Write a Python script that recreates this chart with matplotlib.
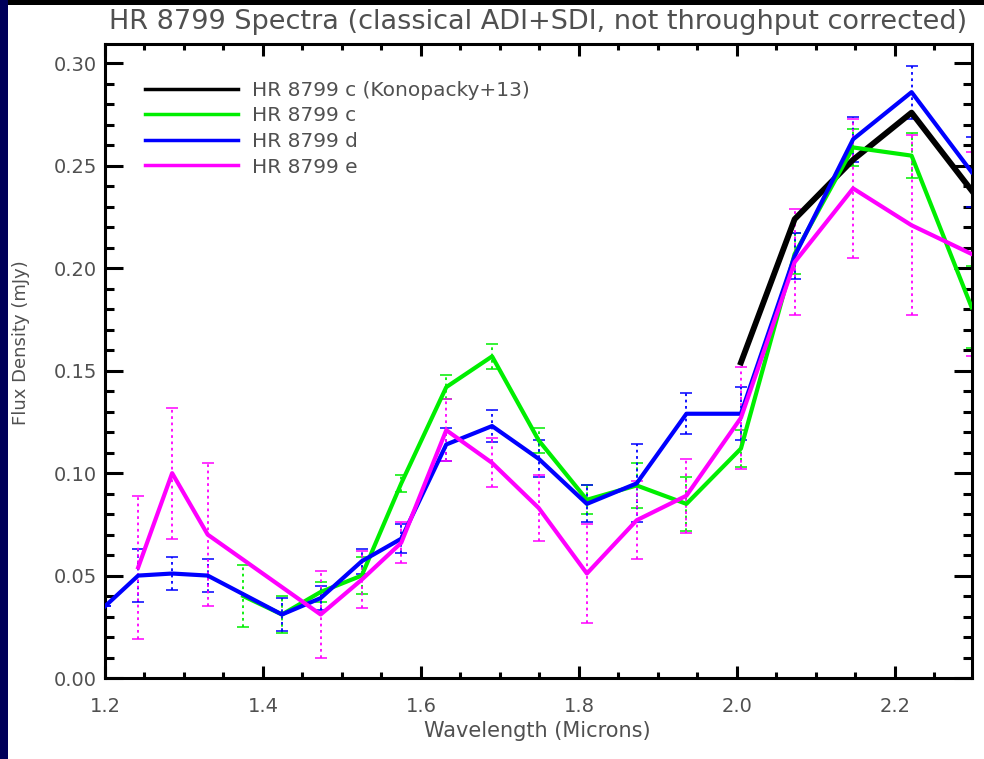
import matplotlib
matplotlib.use("Agg")
import matplotlib.pyplot as plt
from matplotlib.patches import Rectangle
from matplotlib.ticker import MultipleLocator
import numpy as np

# wavelength channels (microns)
wave = [1.242, 1.285, 1.330, 1.375, 1.424, 1.473, 1.525, 1.575, 1.632, 1.690,
        1.749, 1.810, 1.873, 1.936, 2.005, 2.073, 2.147, 2.221, 2.297]

# HR 8799 c (Konopacky+13), K band only
wave_k13 = [2.005, 2.073, 2.147, 2.221, 2.297]
flux_k13 = [0.154, 0.224, 0.253, 0.276, 0.238]

# HR 8799 c
wave_c = wave[3:]
flux_c = [0.040, 0.031, 0.042, 0.050, 0.095, 0.142, 0.157, 0.116, 0.087, 0.094,
          0.085, 0.112, 0.207, 0.259, 0.255, 0.181]
err_c = [0.015, 0.009, 0.005, 0.009, 0.004, 0.006, 0.006, 0.006, 0.007, 0.011,
         0.013, 0.009, 0.010, 0.009, 0.011, 0.020]

# HR 8799 d (no 1.375 channel)
wave_d = [1.200] + wave[:3] + wave[4:]
flux_d = [0.035, 0.050, 0.051, 0.050, 0.031, 0.039, 0.057, 0.068, 0.114, 0.123,
          0.107, 0.085, 0.095, 0.129, 0.129, 0.206, 0.263, 0.286, 0.247]
err_d = [0.000, 0.013, 0.008, 0.008, 0.008, 0.006, 0.006, 0.007, 0.008, 0.008,
         0.009, 0.009, 0.019, 0.010, 0.013, 0.011, 0.011, 0.013, 0.017]

# HR 8799 e (no 1.375, 1.424 channels)
wave_e = wave[:3] + wave[5:]
flux_e = [0.054, 0.100, 0.070, 0.031, 0.048, 0.066, 0.121, 0.105, 0.083, 0.051,
          0.077, 0.089, 0.127, 0.203, 0.239, 0.221, 0.207]
err_e = [0.035, 0.032, 0.035, 0.021, 0.014, 0.010, 0.015, 0.012, 0.016, 0.024,
         0.019, 0.018, 0.025, 0.026, 0.034, 0.044, 0.050]

labels = ["HR 8799 c (Konopacky+13)", "HR 8799 c", "HR 8799 d", "HR 8799 e"]

text_color = "#505050"
plt.rcParams["font.family"] = "DejaVu Sans"
plt.rcParams["text.color"] = text_color

fig = plt.figure(figsize=(9.84, 7.59), dpi=100)
fig.patch.set_facecolor("#00005a")
fig.patches.append(Rectangle((8 / 984, 0), 1, 1, transform=fig.transFigure,
                             facecolor="black", edgecolor="none", zorder=-2))
fig.patches.append(Rectangle((8 / 984, 0), 1, (759 - 5) / 759, transform=fig.transFigure,
                             facecolor="white", edgecolor="none", zorder=-1))

ax = fig.add_axes([105 / 984, 81 / 759, 867 / 984, 634 / 759])
ax.set_facecolor("white")


def draw_errors(x, y, err, color):
    eb = ax.errorbar(x, y, yerr=err, fmt="none", ecolor=color, elinewidth=1.3,
                     capsize=4, capthick=1.1, zorder=2)
    eb[2][0].set_linestyle((0, (1.5, 2.0)))


draw_errors(wave_c, flux_c, err_c, "#00ee00")
draw_errors(wave_d, flux_d, err_d, "#0000ff")
draw_errors(wave_e, flux_e, err_e, "#ff00ff")

ax.plot(wave_k13, flux_k13, color="black", lw=4.2, label=labels[0], zorder=3)
ax.plot(wave_c, flux_c, color="#00ee00", lw=3, label=labels[1], zorder=3)
ax.plot(wave_d, flux_d, color="#0000ff", lw=3, label=labels[2], zorder=3)
ax.plot(wave_e, flux_e, color="#ff00ff", lw=3, label=labels[3], zorder=3)

ax.set_xlim(1.2, 2.2975)
ax.set_ylim(0.0, 0.3095)
ax.xaxis.set_major_locator(MultipleLocator(0.2))
ax.xaxis.set_minor_locator(MultipleLocator(0.05))
ax.yaxis.set_major_locator(MultipleLocator(0.05))
ax.yaxis.set_minor_locator(MultipleLocator(0.01))
ax.xaxis.set_major_formatter(plt.FormatStrFormatter("%.1f"))
ax.yaxis.set_major_formatter(plt.FormatStrFormatter("%.2f"))

ax.tick_params(axis="both", which="both", direction="in", top=True, right=True,
               colors="black", width=2.2, labelcolor=text_color, labelsize=14)
ax.tick_params(axis="x", which="major", length=8.6, pad=14)
ax.tick_params(axis="x", which="minor", length=4.3)
ax.tick_params(axis="y", which="major", length=13, pad=6)
ax.tick_params(axis="y", which="minor", length=6.5)
for spine in ax.spines.values():
    spine.set_linewidth(2.2)

fig.text(538 / 984, 1 - 22 / 759, "HR 8799 Spectra (classical ADI+SDI, not throughput corrected)",
         ha="center", va="center", fontsize=19.5, color=text_color)
fig.text(537 / 984, 1 - 731 / 759, "Wavelength (Microns)", ha="center", va="center",
         fontsize=15, color=text_color)
fig.text(21 / 984, 1 - 343 / 759, "Flux Density (mJy)", ha="center", va="center",
         rotation=90, fontsize=13, color=text_color)

leg = ax.legend(loc="upper left", bbox_to_anchor=(0.037, 0.955), frameon=False,
                fontsize=14.5, handlelength=4.6, handletextpad=0.7, labelspacing=0.33,
                borderaxespad=0.0)
for line in leg.get_lines():
    line.set_linewidth(2.5)
for txt in leg.get_texts():
    txt.set_color(text_color)

fig.savefig("out.png", dpi=100, facecolor=fig.get_facecolor())
